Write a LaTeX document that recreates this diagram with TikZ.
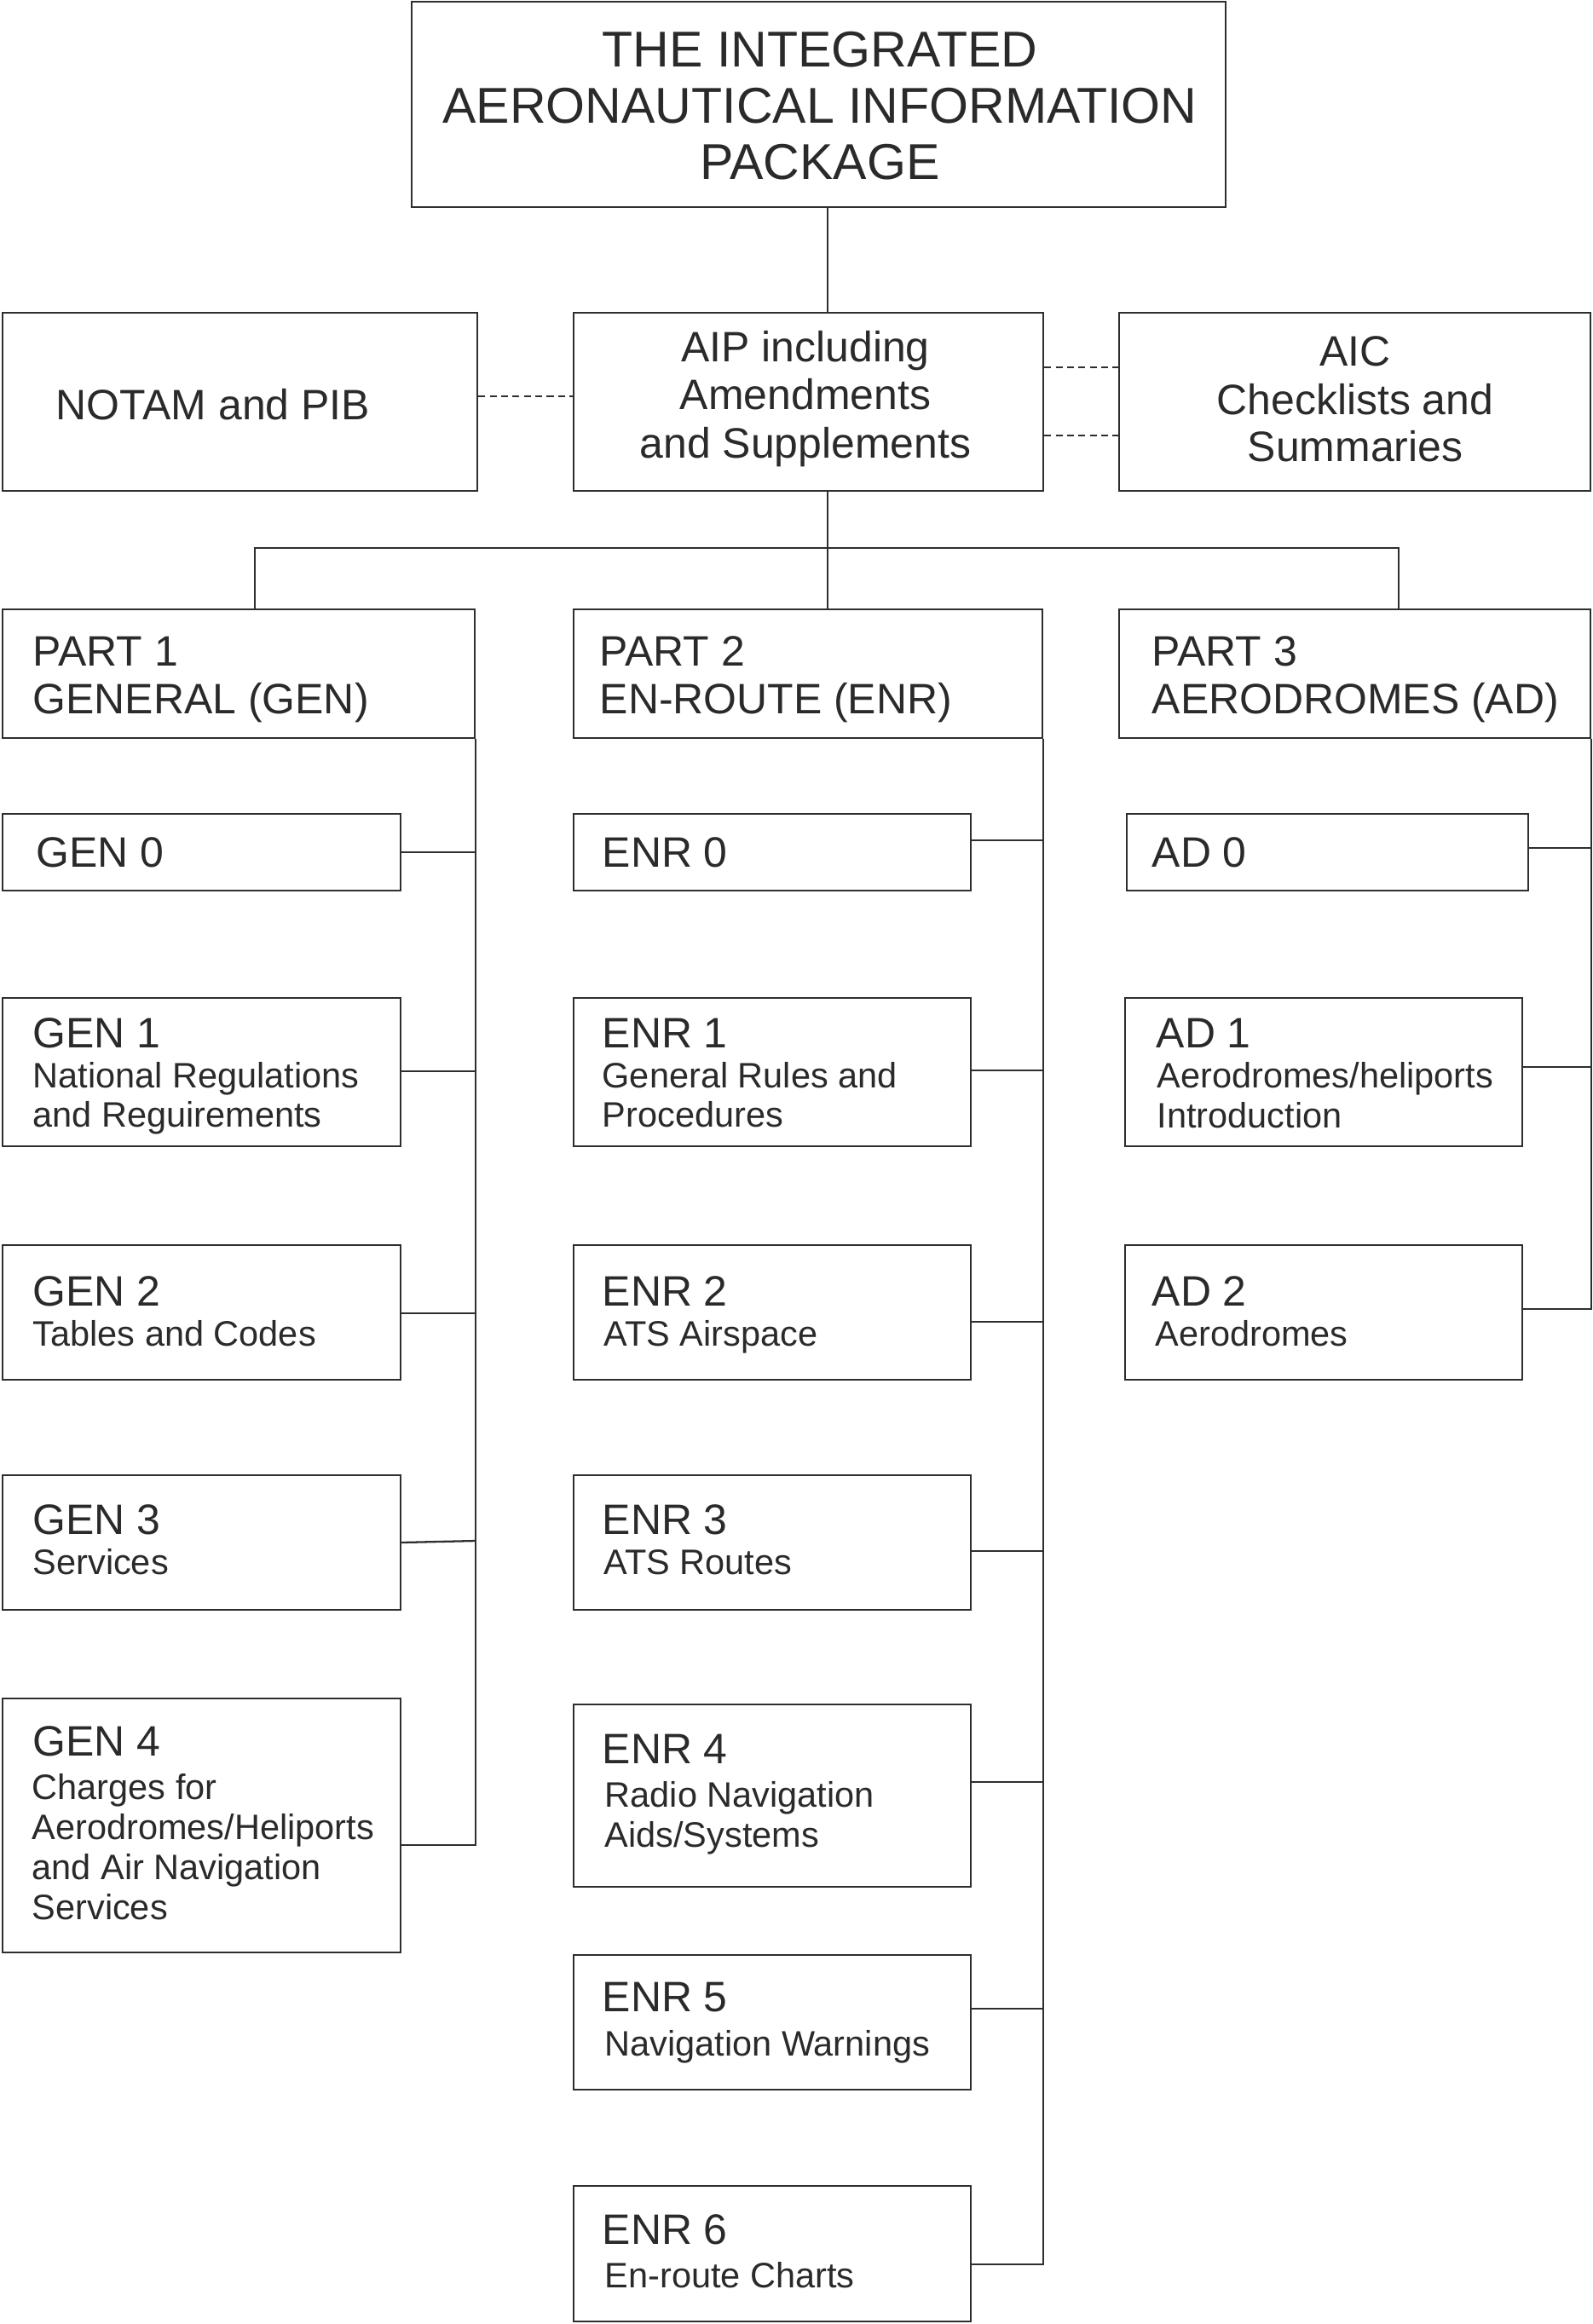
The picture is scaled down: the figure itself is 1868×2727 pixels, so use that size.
\documentclass[tikz,border=0pt]{standalone}
\usepackage{fontspec}
\setmainfont{Liberation Sans}
\usetikzlibrary{fit}
\definecolor{ink}{HTML}{2A2A2A}
\definecolor{line}{HTML}{2E2E2E}
\tikzset{
  box/.style={draw=line, line width=0.7pt, inner sep=0pt},
  conn/.style={draw=line, line width=0.65pt},
  dconn/.style={conn, line width=0.75pt, dash pattern=on 2.3pt off 1.5pt},
  tt/.style={font=\fontsize{16.8}{20}\selectfont, anchor=base, inner sep=0pt, text=ink},
  mt/.style={font=\fontsize{14.2}{17}\selectfont, anchor=base, inner sep=0pt, text=ink},
  hd/.style={mt, anchor=base west},
  sb/.style={font=\fontsize{11.8}{14}\selectfont, anchor=base west, inner sep=0pt, text=ink},
}
\begin{document}
\begin{tikzpicture}[x=0.01cm, y=-0.01cm]
\useasboundingbox (0,0) rectangle (1868,2727);

% ---- boxes
\node[box, fit={(483,2) (1438,243)}] (top) {};
\node[box, fit={(3,367) (560,576)}] (notam) {};
\node[box, fit={(673,367) (1224,576)}] (aip) {};
\node[box, fit={(1313,367) (1866,576)}] (aic) {};
\node[box, fit={(3,715) (557,866)}] (part1) {};
\node[box, fit={(673,715) (1223,866)}] (part2) {};
\node[box, fit={(1313,715) (1866,866)}] (part3) {};

\node[box, fit={(3,955) (470,1045)}] (gen0) {};
\node[box, fit={(3,1171) (470,1345)}] (gen1) {};
\node[box, fit={(3,1461) (470,1619)}] (gen2) {};
\node[box, fit={(3,1731) (470,1889)}] (gen3) {};
\node[box, fit={(3,1993) (470,2291)}] (gen4) {};

\node[box, fit={(673,955) (1139,1045)}] (enr0) {};
\node[box, fit={(673,1171) (1139,1345)}] (enr1) {};
\node[box, fit={(673,1461) (1139,1619)}] (enr2) {};
\node[box, fit={(673,1731) (1139,1889)}] (enr3) {};
\node[box, fit={(673,2000) (1139,2214)}] (enr4) {};
\node[box, fit={(673,2294) (1139,2452)}] (enr5) {};
\node[box, fit={(673,2565) (1139,2724)}] (enr6) {};

\node[box, fit={(1322,955) (1793,1045)}] (ad0) {};
\node[box, fit={(1320,1171) (1786,1345)}] (ad1) {};
\node[box, fit={(1320,1461) (1786,1619)}] (ad2) {};

% ---- texts
\node[tt] (topa) at (962,78) {THE INTEGRATED};
\node[tt] (topb) at (962,144) {AERONAUTICAL INFORMATION};
\node[tt] (topc) at (962,210) {PACKAGE};

\node[mt] (notamt) at (250,492) {NOTAM and PIB};

\node[mt] (aipa) at (945,424) {AIP including};
\node[mt] (aipb) at (945,480) {Amendments};
\node[mt] (aipc) at (945,537) {and Supplements};

\node[mt] (aica) at (1590,429) {AIC};
\node[mt] (aicb) at (1590,486) {Checklists and};
\node[mt] (aicc) at (1590,541) {Summaries};

\node[hd] (p1a) at (38,781) {PART 1};
\node[hd] (p1b) at (38,837) {GENERAL (GEN)};
\node[hd] (p2a) at (703,781) {PART 2};
\node[hd] (p2b) at (703,837) {EN-ROUTE (ENR)};
\node[hd] (p3a) at (1351,781) {PART 3};
\node[hd] (p3b) at (1351,837) {AERODROMES (AD)};

\node[hd] (g0a) at (42,1017) {GEN 0};
\node[hd] (g1a) at (38,1229) {GEN 1};
\node[sb] (g1b) at (38,1276) {National Regulations};
\node[sb] (g1c) at (38,1322) {and Reguirements};
\node[hd] (g2a) at (38,1532) {GEN 2};
\node[sb] (g2b) at (38,1579) {Tables and Codes};
\node[hd] (g3a) at (38,1800) {GEN 3};
\node[sb] (g3b) at (38,1847) {Services};
\node[hd] (g4a) at (38,2060) {GEN 4};
\node[sb] (g4b) at (37,2111) {Charges for};
\node[sb] (g4c) at (37,2158) {Aerodromes/Heliports};
\node[sb] (g4d) at (37,2205) {and Air Navigation};
\node[sb] (g4e) at (37,2252) {Services};

\node[hd] (e0a) at (706,1017) {ENR 0};
\node[hd] (e1a) at (706,1229) {ENR 1};
\node[sb] (e1b) at (706,1276) {General Rules and};
\node[sb] (e1c) at (706,1322) {Procedures};
\node[hd] (e2a) at (706,1532) {ENR 2};
\node[sb] (e2b) at (708,1579) {ATS Airspace};
\node[hd] (e3a) at (706,1800) {ENR 3};
\node[sb] (e3b) at (708,1847) {ATS Routes};
\node[hd] (e4a) at (706,2069) {ENR 4};
\node[sb] (e4b) at (709,2120) {Radio Navigation};
\node[sb] (e4c) at (709,2167) {Aids/Systems};
\node[hd] (e5a) at (706,2360) {ENR 5};
\node[sb] (e5b) at (709,2412) {Navigation Warnings};
\node[hd] (e6a) at (706,2633) {ENR 6};
\node[sb] (e6b) at (709,2684) {En-route Charts};

\node[hd] (a0a) at (1351,1017) {AD 0};
\node[hd] (a1a) at (1356,1229) {AD 1};
\node[sb] (a1b) at (1357,1276) {Aerodromes/heliports};
\node[sb] (a1c) at (1357,1323) {Introduction};
\node[hd] (a2a) at (1351,1532) {AD 2};
\node[sb] (a2b) at (1355,1579) {Aerodromes};

% ---- connectors
\coordinate (sp) at (971,0);
\coordinate (bus) at (971,643);
\coordinate (d1) at (299,643);
\coordinate (d3) at (1641,643);
\draw[conn] (top.south -| sp) -- (aip.north -| sp);
\draw[conn] (aip.south -| sp) -- (bus) -- (part2.north -| bus);
\draw[conn] (d1 |- part1.north) -- (d1) -- (d3) -- (d3 |- part3.north);

\draw[dconn] (notam.east |- 0,465) -- (aip.west |- 0,465);
\draw[dconn] (aip.east |- 0,431) -- (aic.west |- 0,431);
\draw[dconn] (aip.east |- 0,511) -- (aic.west |- 0,511);

% GEN
\draw[conn] (part1.south east) -- (part1.south east |- 0,2165) -- (gen4.east |- 0,2165);
\draw[conn] (gen0.east |- 0,1000) -- (part1.east |- 0,1000);
\draw[conn] (gen1.east |- 0,1257) -- (part1.east |- 0,1257);
\draw[conn] (gen2.east |- 0,1541) -- (part1.east |- 0,1541);
\draw[conn] (gen3.east |- 0,1810) -- (part1.east |- 0,1808);

% ENR
\draw[conn] (part2.south east) -- (part2.south east |- 0,2657) -- (enr6.east |- 0,2657);
\draw[conn] (enr0.east |- 0,986) -- (part2.east |- 0,986);
\draw[conn] (enr1.east |- 0,1256) -- (part2.east |- 0,1256);
\draw[conn] (enr2.east |- 0,1551) -- (part2.east |- 0,1551);
\draw[conn] (enr3.east |- 0,1820) -- (part2.east |- 0,1820);
\draw[conn] (enr4.east |- 0,2091) -- (part2.east |- 0,2091);
\draw[conn] (enr5.east |- 0,2357) -- (part2.east |- 0,2357);

% AD
\draw[conn] (part3.south east) -- (part3.south east |- 0,1536) -- (ad2.east |- 0,1536);
\draw[conn] (ad0.east |- 0,995) -- (part3.east |- 0,995);
\draw[conn] (ad1.east |- 0,1252) -- (part3.east |- 0,1252);
\end{tikzpicture}
\end{document}
